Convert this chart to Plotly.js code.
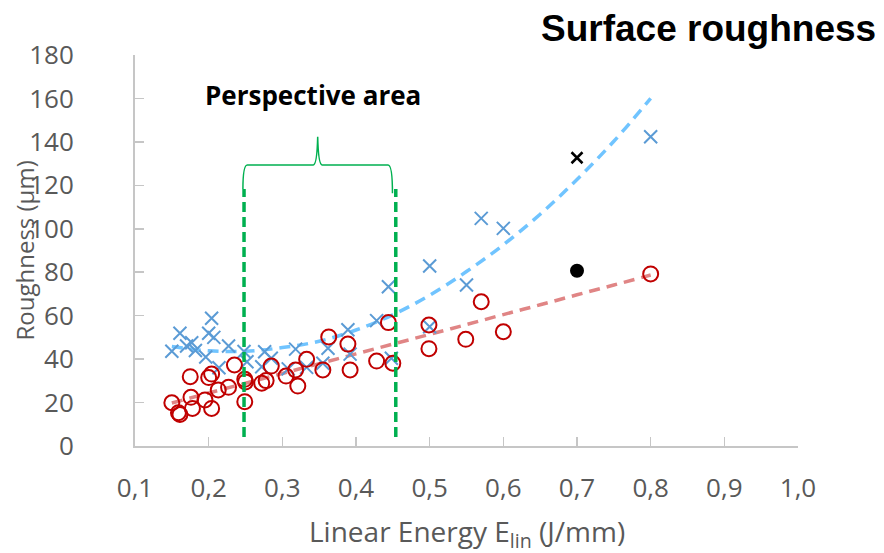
<!DOCTYPE html>
<html>
<head>
<meta charset="utf-8">
<script src="https://cdn.plot.ly/plotly-3.0.1.min.js"></script>
<style>
  html, body { margin: 0; padding: 0; background: #ffffff; }
  #chart { width: 884px; height: 553px; }
</style>
</head>
<body>
<div id="chart"></div>
<script>
// ---- Data ----
const blueX = [0.150, 0.161, 0.170, 0.177, 0.182, 0.196, 0.200, 0.204, 0.207, 0.214, 0.227, 0.248, 0.252, 0.272, 0.276, 0.285, 0.308, 0.318, 0.333, 0.355, 0.362, 0.389, 0.392, 0.428, 0.444, 0.448, 0.500, 0.500, 0.550, 0.570, 0.600, 0.800];
const blueY = [43.6, 51.9, 46.0, 47.5, 44.0, 41.0, 51.9, 58.8, 50.0, 36.0, 46.0, 43.5, 38.8, 36.5, 43.4, 40.4, 35.5, 44.6, 36.2, 38.1, 45.0, 53.5, 42.3, 57.7, 73.3, 40.4, 54.9, 82.9, 74.1, 104.8, 100.2, 142.4];

const redX = [0.150, 0.159, 0.161, 0.175, 0.176, 0.178, 0.195, 0.200, 0.204, 0.204, 0.213, 0.227, 0.235, 0.249, 0.250, 0.249, 0.272, 0.278, 0.285, 0.305, 0.318, 0.321, 0.333, 0.355, 0.363, 0.389, 0.392, 0.428, 0.444, 0.450, 0.499, 0.499, 0.549, 0.570, 0.600, 0.800];
const redY = [19.9, 15.3, 14.5, 31.9, 22.4, 17.3, 21.2, 31.5, 33.1, 17.3, 25.8, 27.0, 37.3, 30.7, 29.5, 20.4, 28.9, 30.1, 36.8, 32.2, 35.0, 27.6, 39.9, 35.0, 50.2, 46.9, 35.0, 39.1, 56.8, 38.1, 55.7, 44.8, 49.1, 66.4, 52.6, 79.2];

const blackCrossX = [0.70];
const blackCrossY = [132.7];
const blackDotX = [0.70];
const blackDotY = [80.7];

// trend lines
const trendX = [0.15, 0.20, 0.25, 0.30, 0.35, 0.40, 0.45, 0.50, 0.55, 0.60, 0.65, 0.70, 0.75, 0.80];
const blueTrendY = [45.8, 43.8, 43.6, 45.3, 48.2, 53.4, 60.4, 69.4, 80.3, 92.6, 106.7, 122.7, 140.3, 160.0];
const redTrendY = [19.8, 24.4, 28.9, 33.4, 37.9, 42.4, 46.9, 51.4, 55.9, 60.5, 65.0, 69.6, 74.1, 78.7];

// perspective area bounds
const areaLeft = 0.248, areaRight = 0.454;
const areaBottom = 4.2, areaTop = 118.3;
const braceLeft = 0.2465, braceRight = 0.4495, braceTip = 0.348;
const braceLevel = 129.4, braceTopY = 142.3;

const xTicks = [0.1, 0.2, 0.3, 0.4, 0.5, 0.6, 0.7, 0.8, 0.9, 1.0];
const yTicks = [0, 20, 40, 60, 80, 100, 120, 140, 160, 180];

// ---- Styles ----
const fontFam = '"Open Sans", "Noto Sans", sans-serif';
const tickFont = { family: fontFam, size: 26, color: '#595959' };
const axisCol = '#C6C6C6';

const traces = [
  { x: trendX, y: blueTrendY, type: 'scatter', mode: 'lines', line: { color: '#70C4FF', width: 3.5, dash: '11px,7px', shape: 'spline' }, hoverinfo: 'skip' },
  { x: trendX, y: redTrendY, type: 'scatter', mode: 'lines', line: { color: '#E08585', width: 3.5, dash: '11px,7px', shape: 'spline' }, hoverinfo: 'skip' },
  { x: blueX, y: blueY, type: 'scatter', mode: 'markers', marker: { symbol: 'x-thin-open', size: 13, color: '#5B9BD5', line: { color: '#5B9BD5', width: 2 } } },
  { x: redX, y: redY, type: 'scatter', mode: 'markers', marker: { symbol: 'circle-open', size: 15, color: '#C00000', line: { color: '#C00000', width: 2 } } },
  { x: blackCrossX, y: blackCrossY, type: 'scatter', mode: 'markers', marker: { symbol: 'x-thin-open', size: 11, color: '#000000', line: { color: '#000000', width: 2.5 } } },
  { x: blackDotX, y: blackDotY, type: 'scatter', mode: 'markers', marker: { symbol: 'circle', size: 14, color: '#000000' } }
];

const bl = braceLeft, br = braceRight, bt = braceTip;
const bracePath =
  'M ' + bl + ',' + areaTop +
  ' Q ' + bl + ',' + braceLevel + ' ' + (bl + 0.006) + ',' + braceLevel +
  ' L ' + (bt - 0.006) + ',' + braceLevel +
  ' Q ' + (bt - 0.001) + ',' + braceLevel + ' ' + bt + ',' + braceTopY +
  ' Q ' + (bt + 0.001) + ',' + braceLevel + ' ' + (bt + 0.006) + ',' + braceLevel +
  ' L ' + (br - 0.006) + ',' + braceLevel +
  ' Q ' + br + ',' + braceLevel + ' ' + br + ',' + (areaTop - 2);

const layout = {
  width: 884, height: 553,
  margin: { l: 135, r: 86, t: 55, b: 107 },
  paper_bgcolor: '#ffffff', plot_bgcolor: '#ffffff',
  showlegend: false,
  separators: ', ',
  xaxis: {
    range: [0.1, 1.0], tickvals: xTicks, tickformat: '.1f',
    showgrid: false, zeroline: false, showline: true, linecolor: axisCol, linewidth: 2,
    ticks: 'inside', ticklen: 9, tickwidth: 1.5, tickcolor: axisCol,
    tickfont: tickFont, ticklabelstandoff: 18, fixedrange: true
  },
  yaxis: {
    range: [0, 180], tickvals: yTicks,
    showgrid: false, zeroline: false, showline: true, linecolor: axisCol, linewidth: 2,
    ticks: 'inside', ticklen: 9, tickwidth: 1.5, tickcolor: axisCol,
    tickfont: tickFont, ticklabelstandoff: 54, fixedrange: true
  },
  shapes: [
    { type: 'line', xref: 'x', yref: 'y', x0: areaLeft, x1: areaLeft, y0: areaBottom, y1: areaTop, layer: 'above', line: { color: '#00B050', width: 3.5, dash: '10px,5px' } },
    { type: 'line', xref: 'x', yref: 'y', x0: areaRight, x1: areaRight, y0: areaBottom, y1: areaTop, layer: 'above', line: { color: '#00B050', width: 3.5, dash: '10px,5px' } },
    { type: 'path', xref: 'x', yref: 'y', path: bracePath, layer: 'above', line: { color: '#00B050', width: 1.5 } }
  ],
  annotations: [
    { text: '<b>Surface roughness</b>', xref: 'paper', yref: 'paper', x: 1.1206, y: 1.069, xanchor: 'right', yanchor: 'middle', showarrow: false, font: { family: '"Liberation Sans", Arial, sans-serif', size: 37, color: '#000000' } },
    { text: '<b>Perspective area</b>', xref: 'x', yref: 'y', x: 0.341, y: 161.6, xanchor: 'center', yanchor: 'middle', showarrow: false, font: { family: fontFam, size: 26, color: '#000000' } },
    { text: 'Roughness (µm)', xref: 'paper', yref: 'paper', x: -0.1674, y: 0.5, xanchor: 'center', yanchor: 'middle', textangle: -90, showarrow: false, font: { family: fontFam, size: 24, color: '#595959' } },
    { text: 'Linear Energy E<sub>lin</sub> (J/mm)', xref: 'paper', yref: 'paper', x: 0.5, y: -0.2225, xanchor: 'center', yanchor: 'middle', showarrow: false, font: { family: fontFam, size: 28, color: '#595959' } }
  ]
};

Plotly.newPlot('chart', traces, layout, { staticPlot: true, displayModeBar: false });
</script>
</body>
</html>
